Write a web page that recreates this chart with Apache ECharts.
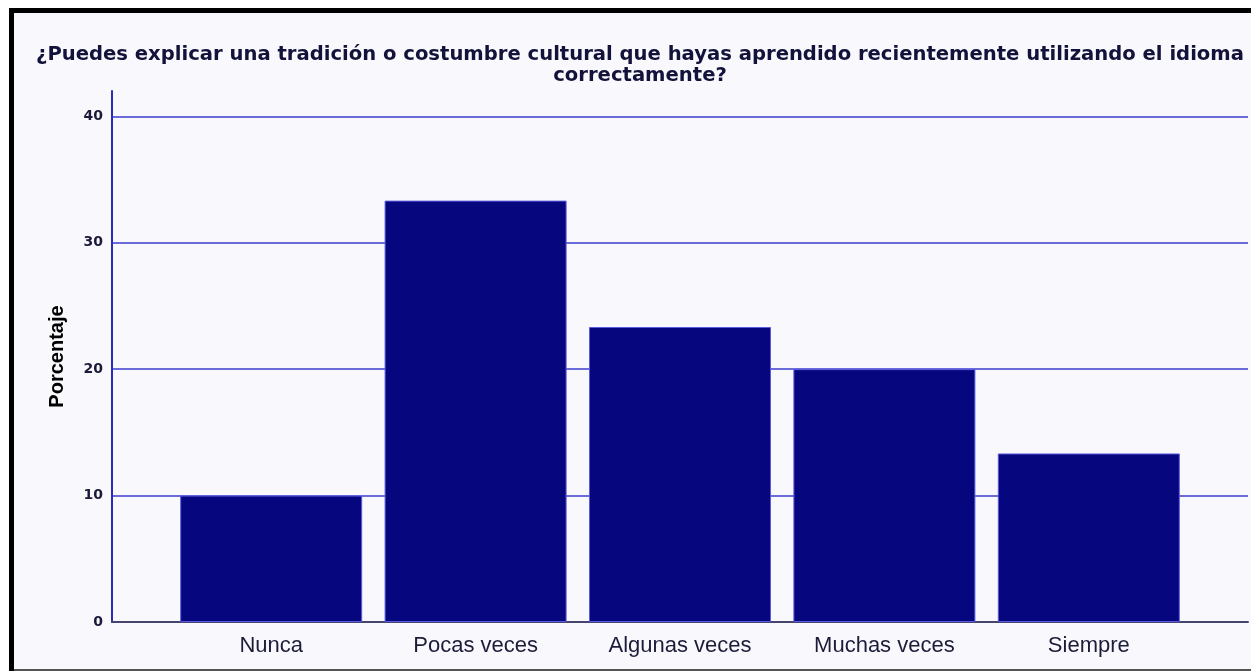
<!DOCTYPE html>
<html>
<head>
<meta charset="utf-8">
<script src="https://cdn.jsdelivr.net/npm/echarts@6/dist/echarts.min.js"></script>
<style>
  html, body { margin: 0; padding: 0; background: #ffffff; }
  #chart { width: 1251px; height: 671px; }
</style>
</head>
<body>
<div id="chart"></div>
<script>
// Datos del gráfico
var titulo = '¿Puedes explicar una tradición o costumbre cultural que hayas aprendido recientemente utilizando el idioma\ncorrectamente?';
var categorias = ['Nunca', 'Pocas veces', 'Algunas veces', 'Muchas veces', 'Siempre'];
var porcentajes = [10.0, 33.33, 23.33, 20.0, 13.33];
var ticksY = [0, 10, 20, 30, 40];

var fuente = '"Liberation Sans", Arial, sans-serif';
var fuenteAncha = '"DejaVu Sans", sans-serif';
var myChart = echarts.init(document.getElementById('chart'));

var option = {
    backgroundColor: '#ffffff',
    animation: false,
    // Marco de la imagen (borde negro arriba e izquierda)
    graphic: [
        { type: 'rect', z: -10, shape: { x: 9, y: 8, width: 1242, height: 663 }, style: { fill: '#f9f9fd' } },
        { type: 'rect', z: 100, shape: { x: 9, y: 8, width: 1242, height: 5 }, style: { fill: '#000000' } },
        { type: 'rect', z: 100, shape: { x: 9, y: 8, width: 5, height: 663 }, style: { fill: '#000000' } },
        { type: 'rect', z: 100, shape: { x: 14, y: 669, width: 1237, height: 2 }, style: { fill: '#555555' } }
    ],
    title: {
        text: titulo,
        left: 635,
        top: 39,
        textAlign: 'center',
        textStyle: {
            fontFamily: fuenteAncha,
            fontSize: 19.6,
            fontWeight: 'bold',
            color: '#12123a',
            lineHeight: 21
        }
    },
    grid: [
        // rejilla completa: eje Y y líneas de cuadrícula
        { left: 112, right: 3, top: 91, bottom: 49 },
        // rejilla interior: barras y etiquetas de categoría
        { left: 169, right: 60, top: 91, bottom: 49 }
    ],
    xAxis: [
        {
            gridIndex: 0,
            type: 'category',
            data: categorias,
            axisLine: { lineStyle: { color: '#45456e', width: 2 } },
            axisTick: { show: false },
            axisLabel: { show: false }
        },
        {
            gridIndex: 1,
            type: 'category',
            data: categorias,
            axisLine: { show: false },
            axisTick: { show: false },
            axisLabel: {
                margin: 13,
                fontFamily: fuente,
                fontSize: 22,
                color: '#1c1c3a'
            }
        }
    ],
    yAxis: [
        {
            gridIndex: 0,
            type: 'value',
            min: ticksY[0],
            max: 42,
            interval: 10,
            name: 'Porcentaje',
            nameLocation: 'middle',
            nameGap: 45,
            nameTextStyle: {
                fontFamily: fuente,
                fontSize: 20,
                fontWeight: 'bold',
                color: '#000000'
            },
            axisLine: { show: true, lineStyle: { color: '#2a2ab4', width: 2 } },
            axisTick: { show: false },
            axisLabel: {
                margin: 9,
                showMaxLabel: false,
                fontFamily: fuenteAncha,
                fontSize: 14,
                fontWeight: 'bold',
                color: '#1a1a3a'
            },
            splitLine: {
                show: true,
                showMinLine: false,
                showMaxLine: false,
                lineStyle: { color: '#3b3bcc', width: 1.5 }
            }
        },
        {
            gridIndex: 1,
            type: 'value',
            min: ticksY[0],
            max: 42,
            interval: 10,
            show: false,
            splitLine: { show: false }
        }
    ],
    series: [
        {
            type: 'bar',
            xAxisIndex: 1,
            yAxisIndex: 1,
            data: porcentajes,
            barWidth: 182,
            itemStyle: {
                color: '#06067f',
                borderColor: '#5a5ae0',
                borderWidth: 1
            }
        }
    ]
};

myChart.setOption(option);
</script>
</body>
</html>
